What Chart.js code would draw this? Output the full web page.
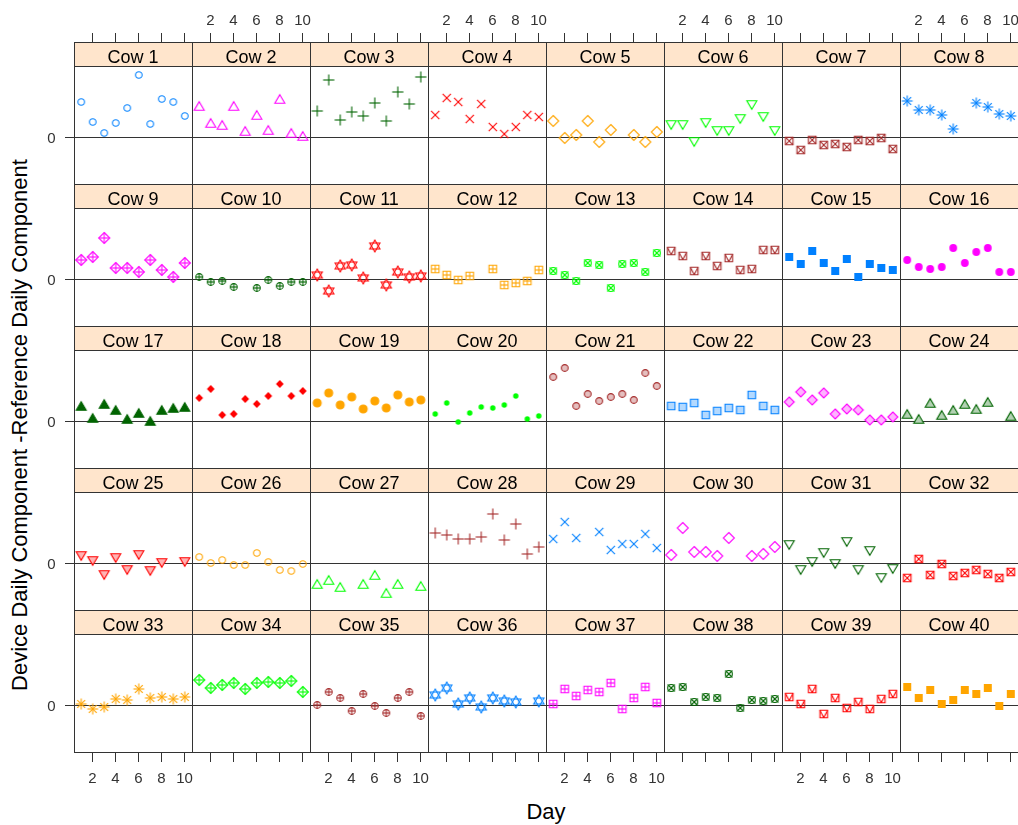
<!DOCTYPE html>
<html>
<head>
<meta charset="utf-8">
<script src="https://cdn.jsdelivr.net/npm/chart.js@4.4.0/dist/chart.umd.min.js"></script>
<style>
html,body{margin:0;padding:0;background:#fff;width:1018px;height:825px;overflow:hidden;}
#wrap{position:relative;width:1018px;height:825px;overflow:hidden;}
#wrap canvas{position:absolute;}
.axlab{position:absolute;font-family:"Liberation Sans",Arial,sans-serif;font-size:22px;line-height:22px;color:#000;white-space:nowrap;text-align:center;}
</style>
</head>
<body>
<div id="wrap"></div>
<script>
// ---------- data ----------
const days = [1, 2, 3, 4, 5, 6, 7, 8, 9, 10];
const xTickValues = [2, 4, 6, 8, 10];
const yTickValues = [0];
const xTitle = "Day";
const yTitle = "Device Daily Component -Reference Daily Component";

const cow1  = [0.35, 0.15, 0.04, 0.14, 0.29, 0.62, 0.13, 0.38, 0.35, 0.21];
const cow2  = [0.31, 0.14, 0.12, 0.31, 0.06, 0.22, 0.07, 0.38, 0.04, 0.01];
const cow3  = [0.26, 0.57, 0.17, 0.25, 0.21, 0.34, 0.16, 0.45, 0.33, 0.60];
const cow4  = [0.22, 0.39, 0.35, 0.18, 0.33, 0.10, 0.03, 0.10, 0.22, 0.20];
const cow5  = [0.16, -0.01, 0.02, 0.16, -0.05, 0.07, null, 0.02, -0.05, 0.05];
const cow6  = [0.12, 0.12, -0.05, 0.14, 0.06, 0.06, 0.18, 0.32, 0.20, 0.06];
const cow7  = [-0.04, -0.13, -0.03, -0.08, -0.07, -0.10, -0.03, -0.04, -0.01, -0.12];
const cow8  = [0.36, 0.27, 0.27, 0.22, 0.08, null, 0.34, 0.30, 0.23, 0.21];
const cow9  = [0.19, 0.22, 0.41, 0.11, 0.11, 0.07, 0.19, 0.09, 0.02, 0.16];
const cow10 = [0.02, -0.03, -0.02, -0.08, null, -0.09, -0.01, -0.07, -0.03, -0.03];
const cow11 = [0.04, -0.12, 0.13, 0.14, 0.01, 0.33, -0.06, 0.07, 0.02, 0.03];
const cow12 = [0.10, 0.04, -0.01, 0.03, null, 0.10, -0.06, -0.04, -0.02, 0.09];
const cow13 = [0.08, 0.04, -0.02, 0.16, 0.14, -0.09, 0.15, 0.16, 0.07, 0.26];
const cow14 = [0.28, 0.23, 0.08, 0.23, 0.13, 0.21, 0.09, 0.10, 0.29, 0.29];
const cow15 = [0.22, 0.15, 0.28, 0.16, 0.08, 0.20, 0.02, 0.15, 0.11, 0.09];
const cow16 = [0.19, 0.12, 0.10, 0.12, 0.31, 0.16, 0.27, 0.31, 0.07, 0.07];
const cow17 = [0.15, 0.03, 0.17, 0.11, 0.02, 0.08, 0.00, 0.11, 0.13, 0.14];
const cow18 = [0.23, 0.32, 0.06, 0.07, 0.22, 0.17, 0.25, 0.37, 0.25, 0.30];
const cow19 = [0.18, 0.28, 0.16, 0.24, 0.12, 0.20, 0.13, 0.26, 0.19, 0.21];
const cow20 = [0.07, 0.18, -0.01, 0.08, 0.14, 0.13, 0.16, 0.25, 0.02, 0.05];
const cow21 = [0.44, 0.53, 0.15, 0.27, 0.20, 0.24, 0.27, 0.21, 0.48, 0.35];
const cow22 = [0.15, 0.14, 0.18, 0.06, 0.10, 0.13, 0.11, 0.26, 0.15, 0.11];
const cow23 = [0.19, 0.29, 0.21, 0.28, 0.07, 0.12, 0.11, 0.01, 0.01, 0.04];
const cow24 = [0.07, 0.02, 0.18, 0.06, 0.11, 0.17, 0.12, 0.19, null, 0.05];
const cow25 = [0.07, 0.02, -0.12, 0.05, -0.07, 0.08, -0.08, 0.00, null, 0.01];
const cow26 = [0.06, 0.00, 0.03, -0.02, -0.02, 0.10, 0.01, -0.07, -0.08, -0.01];
const cow27 = [-0.21, -0.17, -0.24, null, -0.21, -0.12, -0.30, -0.21, null, -0.23];
const cow28 = [0.30, 0.28, 0.24, 0.24, 0.26, 0.49, 0.23, 0.39, 0.09, 0.16];
const cow29 = [0.24, 0.41, 0.25, null, 0.31, 0.13, 0.19, 0.19, 0.29, 0.15];
const cow30 = [0.08, 0.35, 0.11, 0.11, 0.07, 0.25, null, 0.07, 0.09, 0.16];
const cow31 = [0.18, -0.07, 0.01, 0.10, -0.01, 0.21, -0.07, 0.12, -0.15, -0.06];
const cow32 = [-0.15, 0.04, -0.12, -0.01, -0.13, -0.10, -0.07, -0.11, -0.15, -0.09];
const cow33 = [0.01, -0.04, -0.02, 0.06, 0.05, 0.16, 0.07, 0.08, 0.06, 0.08];
const cow34 = [0.25, 0.17, 0.20, 0.22, 0.16, 0.22, 0.23, 0.22, 0.24, 0.13];
const cow35 = [0.00, 0.13, 0.07, -0.06, 0.11, -0.01, -0.08, 0.07, 0.13, -0.11];
const cow36 = [0.10, 0.17, 0.01, 0.07, -0.02, 0.07, 0.04, 0.03, null, 0.04];
const cow37 = [0.01, 0.16, 0.09, 0.15, 0.13, 0.22, -0.04, 0.07, 0.18, 0.02];
const cow38 = [0.17, 0.18, 0.03, 0.08, 0.07, 0.31, -0.03, 0.05, 0.04, 0.06];
const cow39 = [0.08, 0.01, 0.16, -0.09, 0.07, -0.03, 0.03, -0.04, 0.06, 0.11];
const cow40 = [0.18, 0.07, 0.15, 0.01, 0.05, 0.15, 0.11, 0.17, -0.01, 0.11];

const cowSeries = [cow1, cow2, cow3, cow4, cow5, cow6, cow7, cow8, cow9, cow10,
  cow11, cow12, cow13, cow14, cow15, cow16, cow17, cow18, cow19, cow20,
  cow21, cow22, cow23, cow24, cow25, cow26, cow27, cow28, cow29, cow30,
  cow31, cow32, cow33, cow34, cow35, cow36, cow37, cow38, cow39, cow40];
const cowLabels = cowSeries.map((_, i) => "Cow " + (i + 1));

// ---------- styling ----------
const palette = ["#0080ff", "#ff00ff", "#006400", "#ff0000", "#ffa500", "#00ff00", "#a52a2a"];
const FONT = '"Liberation Sans", Arial, sans-serif';
const NCOL = 8, NROW = 5;
const LEFT = 74, TOP = 42, COLW = 118, STRIP = 24, PANELH = 118;
const M = 42; // canvas margin around each panel
const LINE = "#333";

function tint(hex, a) {
  const n = parseInt(hex.slice(1), 16);
  const r = (n >> 16) & 255, g = (n >> 8) & 255, b = n & 255;
  const mix = v => Math.round(255 - (255 - v) * a);
  return "rgb(" + mix(r) + "," + mix(g) + "," + mix(b) + ")";
}

function makeSymbol(pch, col) {
  const S = 18;
  const c = document.createElement("canvas");
  c.width = S; c.height = S;
  const g = c.getContext("2d");
  g.translate(S / 2, S / 2);
  g.lineWidth = 1.1;
  g.strokeStyle = col;
  g.fillStyle = col;
  const light = tint(col, 0.3);
  const circle = r => { g.beginPath(); g.arc(0, 0, r, 0, Math.PI * 2); };
  const square = h => { g.beginPath(); g.rect(-h, -h, 2 * h, 2 * h); };
  const diamond = h => { g.beginPath(); g.moveTo(0, -h); g.lineTo(h, 0); g.lineTo(0, h); g.lineTo(-h, 0); g.closePath(); };
  const triUp = (w, h) => { g.beginPath(); g.moveTo(0, -h); g.lineTo(w, h); g.lineTo(-w, h); g.closePath(); };
  const triDown = (w, h) => { g.beginPath(); g.moveTo(0, h); g.lineTo(w, -h); g.lineTo(-w, -h); g.closePath(); };
  const seg = (x1, y1, x2, y2) => { g.beginPath(); g.moveTo(x1, y1); g.lineTo(x2, y2); g.stroke(); };
  const plus = h => { seg(-h, 0, h, 0); seg(0, -h, 0, h); };
  const cross = h => { seg(-h, -h, h, h); seg(-h, h, h, -h); };
  const fillStroke = () => { g.fillStyle = light; g.fill(); g.stroke(); };
  switch (pch) {
    case 1: circle(3.3); g.stroke(); break;
    case 2: triUp(5, 4.3); g.stroke(); break;
    case 3: plus(5.6); break;
    case 4: cross(4.1); break;
    case 5: diamond(5.5); g.stroke(); break;
    case 6: triDown(5, 4.3); g.stroke(); break;
    case 7: square(3.8); g.stroke(); cross(3.8); break;
    case 8: plus(5.4); cross(3.9); break;
    case 9: diamond(5.5); g.stroke(); plus(5.5); break;
    case 10: circle(3.4); g.stroke(); plus(3.4); break;
    case 11:
      g.beginPath(); g.moveTo(0, -6); g.lineTo(5.1, 3); g.lineTo(-5.1, 3); g.closePath(); g.stroke();
      g.beginPath(); g.moveTo(0, 6); g.lineTo(5.1, -3); g.lineTo(-5.1, -3); g.closePath(); g.stroke();
      break;
    case 12: square(3.8); g.stroke(); plus(3.8); break;
    case 13: circle(3.5); g.stroke(); cross(3.5); break;
    case 14: square(3.8); g.stroke(); seg(-3.8, -3.8, 0, 3.8); seg(0, 3.8, 3.8, -3.8); break;
    case 15: square(4); g.fill(); break;
    case 16: circle(3.9); g.fill(); break;
    case 17: triUp(5, 4.3); g.fill(); g.stroke(); break;
    case 18: diamond(3.9); g.fill(); break;
    case 19: circle(4); g.fill(); g.stroke(); break;
    case 20: circle(2.7); g.fill(); break;
    case 21: circle(3.4); fillStroke(); break;
    case 22: square(3.8); fillStroke(); break;
    case 23: diamond(5); fillStroke(); break;
    case 24: triUp(5, 4.3); fillStroke(); break;
    case 25: triDown(5, 4.3); fillStroke(); break;
  }
  return c;
}

// ---------- lattice decorations (strip, reference line, borders, ticks) ----------
const latticePlugin = {
  id: "lattice",
  beforeDatasetsDraw(chart, args, o) {
    const { ctx, chartArea: a, scales: { y } } = chart;
    const st = a.top - STRIP;
    ctx.save();
    ctx.fillStyle = "#ffe5cc";
    ctx.fillRect(a.left, st, a.right - a.left, STRIP);
    ctx.fillStyle = "#000";
    ctx.font = "18px " + FONT;
    ctx.textAlign = "center";
    ctx.textBaseline = "alphabetic";
    ctx.fillText(o.label, (a.left + a.right) / 2, st + 20.5);
    ctx.strokeStyle = LINE;
    ctx.lineWidth = 1;
    for (const v of yTickValues) {
      const py = Math.floor(y.getPixelForValue(v)) + 0.5;
      ctx.beginPath(); ctx.moveTo(a.left, py); ctx.lineTo(a.right, py); ctx.stroke();
    }
    ctx.restore();
  },
  afterDatasetsDraw(chart, args, o) {
    const { ctx, chartArea: a, scales: { x, y } } = chart;
    const st = a.top - STRIP;
    ctx.save();
    ctx.strokeStyle = LINE;
    ctx.lineWidth = 1;
    ctx.strokeRect(a.left + 0.5, st + 0.5, a.right - a.left, STRIP);
    ctx.strokeRect(a.left + 0.5, a.top + 0.5, a.right - a.left, a.bottom - a.top);
    ctx.fillStyle = "#333";
    ctx.font = "15px " + FONT;
    ctx.textBaseline = "alphabetic";
    ctx.textAlign = "center";
    if (o.row === 0) {
      for (const v of xTickValues) {
        const px = Math.floor(x.getPixelForValue(v)) + 0.5;
        ctx.beginPath(); ctx.moveTo(px, st - 9); ctx.lineTo(px, st); ctx.stroke();
        if (o.col % 2 === 1) ctx.fillText(String(v), px, st - 17);
      }
    }
    if (o.row === NROW - 1) {
      for (const v of xTickValues) {
        const px = Math.floor(x.getPixelForValue(v)) + 0.5;
        ctx.beginPath(); ctx.moveTo(px, a.bottom); ctx.lineTo(px, a.bottom + 10); ctx.stroke();
        if (o.col % 2 === 0) ctx.fillText(String(v), px, a.bottom + 31);
      }
    }
    if (o.col === 0) {
      ctx.textAlign = "right";
      for (const v of yTickValues) {
        const py = Math.floor(y.getPixelForValue(v)) + 0.5;
        ctx.beginPath(); ctx.moveTo(a.left - 9, py); ctx.lineTo(a.left, py); ctx.stroke();
        ctx.fillText(String(v), a.left - 18.5, py + 5.5);
      }
    }
    ctx.restore();
  }
};

// ---------- build the 40 panels ----------
const wrap = document.getElementById("wrap");
cowSeries.forEach((vals, i) => {
  const row = Math.floor(i / NCOL), col = i % NCOL;
  const cv = document.createElement("canvas");
  const w = COLW + 2 * M, h = STRIP + PANELH + 2 * M;
  cv.width = w; cv.height = h;
  cv.style.width = w + "px"; cv.style.height = h + "px";
  cv.style.left = (LEFT + col * COLW - M) + "px";
  cv.style.top = (TOP + row * (STRIP + PANELH) - M) + "px";
  wrap.appendChild(cv);
  const pch = (i % 25) + 1;
  const color = palette[i % palette.length];
  new Chart(cv, {
    type: "scatter",
    data: {
      datasets: [{
        label: cowLabels[i],
        data: days.map((d, k) => ({ x: d, y: vals[k] })),
        pointStyle: makeSymbol(pch, color),
        pointRadius: 5,
        borderColor: color,
        backgroundColor: color
      }]
    },
    options: {
      responsive: false,
      maintainAspectRatio: false,
      animation: false,
      devicePixelRatio: 1,
      events: [],
      layout: { padding: { left: M, right: M, top: M + STRIP, bottom: M } },
      plugins: {
        legend: { display: false },
        tooltip: { enabled: false },
        lattice: { row: row, col: col, label: cowLabels[i] }
      },
      scales: {
        x: { type: "linear", min: 0.37, max: 10.63, display: false },
        y: { type: "linear", min: -0.47, max: 0.71, display: false }
      }
    },
    plugins: [latticePlugin]
  });
});

// ---------- axis titles ----------
const xl = document.createElement("div");
xl.className = "axlab";
xl.textContent = xTitle;
xl.style.left = LEFT + "px";
xl.style.width = (NCOL * COLW) + "px";
xl.style.top = "801px";
wrap.appendChild(xl);

const yl = document.createElement("div");
yl.className = "axlab";
yl.textContent = yTitle;
yl.style.width = "640px";
yl.style.height = "22px";
yl.style.left = (20 - 320) + "px";
yl.style.top = (425 - 11) + "px";
yl.style.transform = "rotate(-90deg)";
yl.style.transformOrigin = "50% 50%";
wrap.appendChild(yl);
</script>
</body>
</html>
